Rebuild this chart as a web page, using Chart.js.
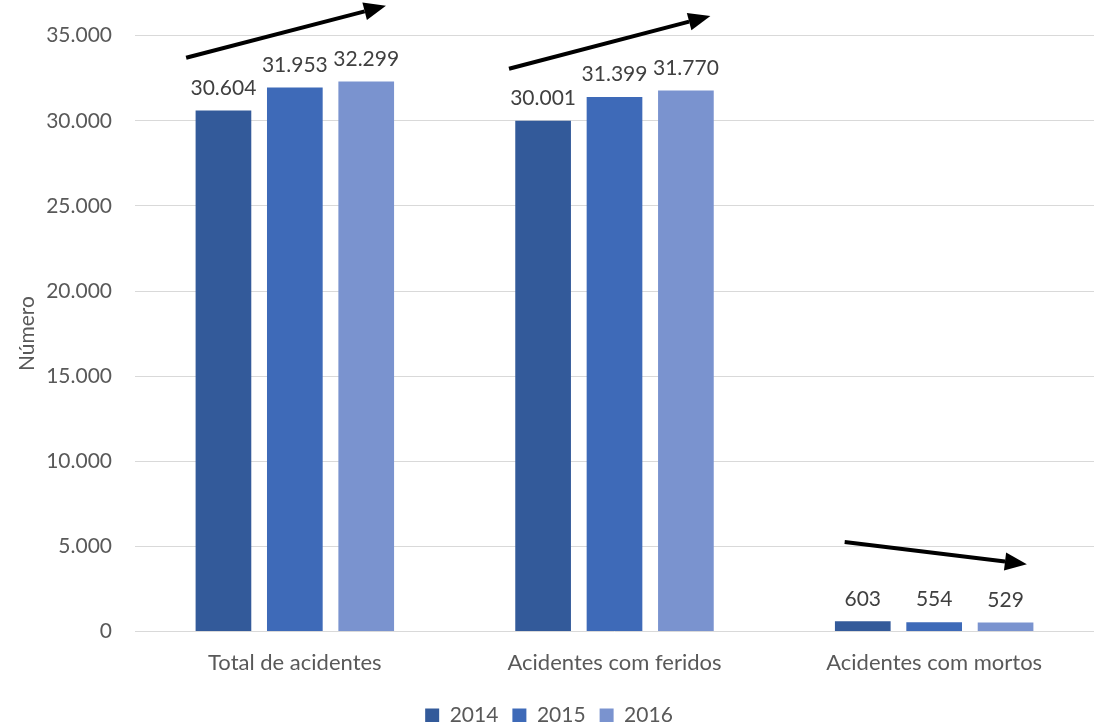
<!DOCTYPE html>
<html>
<head>
<meta charset="utf-8">
<script src="https://cdn.jsdelivr.net/npm/chart.js@4/dist/chart.umd.min.js"></script>
<style>
  body { margin: 0; background: #fff; }
  #wrap { width: 1094px; height: 722px; }
</style>
</head>
<body>
<div id="wrap"><canvas id="myBarChart" width="1094" height="722"></canvas></div>
<script>
// Acidentes por ano

var categorias = ["Total de acidentes", "Acidentes com feridos", "Acidentes com mortos"];
var anos = ["2014", "2015", "2016"];
var valores2014 = [30604, 30001, 603];
var valores2015 = [31953, 31399, 554];
var valores2016 = [32299, 31770, 529];
var cores = ["#335a9a", "#3e6ab8", "#7a93cf"];

// setas de tendencia: [categoria + deslocamento, valor]
var setas = [
  [[-0.34, 33700], [0.285, 36750]],
  [[0.67, 33050], [1.30, 36150]],
  [[1.72, 5260], [2.29, 3960]]
];

function pontos(n) {
  return String(n).replace(/\B(?=(\d{3})+(?!\d))/g, ".");
}

var fonte = "Lato, 'Open Sans', sans-serif";

var rotulos = {
  id: "rotulos",
  afterDatasetsDraw: function (chart) {
    var c = chart.ctx;
    c.save();
    c.font = "21px " + fonte;
    c.fillStyle = "#404040";
    c.textAlign = "center";
    c.textBaseline = "bottom";
    chart.data.datasets.forEach(function (ds, i) {
      chart.getDatasetMeta(i).data.forEach(function (bar, j) {
        c.fillText(pontos(ds.data[j]), bar.x, bar.y - 12);
      });
    });
    c.restore();
  }
};

var setasPlugin = {
  id: "setas",
  afterDraw: function (chart) {
    var c = chart.ctx;
    var sx = chart.scales.x, sy = chart.scales.y;
    c.save();
    c.strokeStyle = "#000";
    c.fillStyle = "#000";
    c.lineWidth = 4;
    setas.forEach(function (s) {
      var x1 = sx.getPixelForValue(s[0][0]), y1 = sy.getPixelForValue(s[0][1]);
      var x2 = sx.getPixelForValue(s[1][0]), y2 = sy.getPixelForValue(s[1][1]);
      var a = Math.atan2(y2 - y1, x2 - x1);
      var len = 22, w = 9;
      var bx = x2 - len * Math.cos(a), by = y2 - len * Math.sin(a);
      c.beginPath();
      c.moveTo(x1, y1);
      c.lineTo(bx, by);
      c.stroke();
      c.beginPath();
      c.moveTo(x2, y2);
      c.lineTo(bx + w * Math.sin(a), by - w * Math.cos(a));
      c.lineTo(bx - w * Math.sin(a), by + w * Math.cos(a));
      c.closePath();
      c.fill();
    });
    c.restore();
  }
};

var ctx = document.getElementById("myBarChart").getContext("2d");
var myBarChart = new Chart(ctx, {
  type: "bar",
  data: {
    labels: categorias,
    datasets: [
      { label: anos[0], data: valores2014, backgroundColor: cores[0] },
      { label: anos[1], data: valores2015, backgroundColor: cores[1] },
      { label: anos[2], data: valores2016, backgroundColor: cores[2] }
    ]
  },
  options: {
    responsive: false,
    animation: false,
    layout: { padding: { top: 33, right: 0, left: 4, bottom: -14 } },
    datasets: { bar: { categoryPercentage: 0.67, barPercentage: 0.78 } },
    scales: {
      x: {
        grid: { display: false },
        border: { display: false },
        afterFit: function (s) { s.height += 5; },
        ticks: { color: "#595959", font: { family: fonte, size: 22 }, padding: 10 }
      },
      y: {
        min: 0,
        max: 35000,
        afterFit: function (s) { s.width = 131; },
        ticks: {
          stepSize: 5000,
          color: "#595959",
          font: { family: fonte, size: 21 },
          padding: 23,
          callback: function (v) { return pontos(v); }
        },
        grid: { color: "#d9d9d9", lineWidth: 1, drawTicks: false },
        border: { display: false },
        title: { display: true, text: "Número", color: "#595959", font: { family: fonte, size: 21 }, padding: { top: 11, bottom: 4 } }
      }
    },
    plugins: {
      legend: {
        position: "bottom",
        labels: {
          boxWidth: 14,
          boxHeight: 14,
          color: "#595959",
          font: { family: fonte, size: 21 },
          padding: 14
        }
      },
      tooltip: { enabled: false }
    }
  },
  plugins: [rotulos, setasPlugin]
});
</script>
</body>
</html>
